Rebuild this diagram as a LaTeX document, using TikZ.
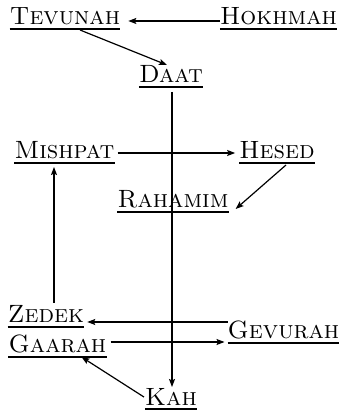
\documentclass[tikz,border=0pt]{standalone}
\usetikzlibrary{arrows.meta}
\begin{document}
\begin{tikzpicture}[x=1pt,y=1pt,
  word/.style={font=\fontsize{25}{28}\selectfont\scshape, inner sep=0pt, anchor=base},
  link/.style={line width=1.2pt, -{Stealth[length=8pt,width=6pt,inset=1.5pt]}},
  uline/.style={line width=1.2pt}]
\useasboundingbox (0,0) rectangle (347,414);

% sefirot names
\node[word] (tev) at (65,389)    {Tevunah};
\node[word] (hok) at (278.5,389) {Hokhmah};
\node[word] (daat) at (171,331)  {Daat};
\node[word] (mis) at (64.5,255)  {Mishpat};
\node[word] (hes) at (277,255)   {Hesed};
\node[word] (rah) at (173,206)   {Rahamim};
\node[word] (zed) at (46,91)     {Zedek};
\node[word] (gev) at (283.5,75)  {Gevurah};
\node[word] (gaa) at (57.5,61)   {Gaarah};
\node[word] (kah) at (171,9)     {Kah};

% underlines
\foreach \n in {tev,hok,daat,mis,hes,rah,zed,gev,gaa,kah}
  \draw[uline] ([yshift=-4pt]\n.base west) -- ([yshift=-4pt]\n.base east);

% anchor points of the connectors
\coordinate (h1) at ([yshift=4pt]hok.base west);
\coordinate (t1) at ([xshift=8pt]tev.base east);
\coordinate (d1) at ([xshift=1pt,yshift=-9pt]daat.base);
\coordinate (k1) at ([yshift=18pt]kah.base);
\coordinate (m0) at ([xshift=3pt,yshift=6pt]mis.base east);
\coordinate (s1) at ([xshift=-4pt]hes.base west);
\coordinate (z1) at ([xshift=8pt,yshift=20pt]zed.base);
\coordinate (m1) at ([yshift=-8pt]mis.base);
\coordinate (g1) at ([yshift=17pt]gev.base west);
\coordinate (z2) at ([xshift=3pt]zed.base east);
\coordinate (a1) at ([xshift=4pt,yshift=11pt]gaa.base east);
\coordinate (g2) at ([xshift=-3pt]gev.base west);

% connectors
\draw[link] (h1) -- (h1 -| t1);
\draw[link] ([xshift=15pt,yshift=-5pt]tev.base) -- ([xshift=-4pt,yshift=18pt]daat.base);
\draw[link] (d1) -- (d1 |- k1);
\draw[link] (m0) -- (m0 -| s1);
\draw[link] ([xshift=9pt,yshift=-6pt]hes.base) -- ([xshift=7pt,yshift=-1pt]rah.base east);
\draw[link] (z1) -- (z1 |- m1);
\draw[link] (g1) -- (g1 -| z2);
\draw[link] (a1) -- (a1 -| g2);
\draw[link] ([xshift=-1pt,yshift=8pt]kah.base west) -- ([xshift=24pt,yshift=-4pt]gaa.base);
\end{tikzpicture}
\end{document}
